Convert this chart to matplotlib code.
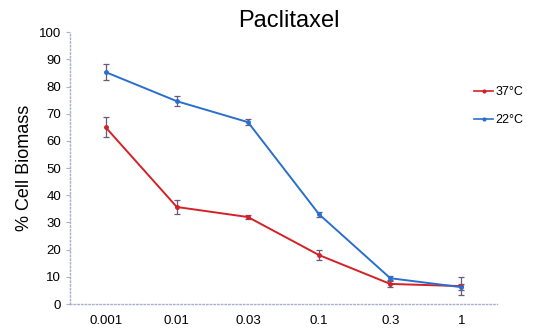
import numpy as np
import matplotlib.pyplot as plt
from matplotlib.lines import Line2D

plt.rcParams['font.family'] = ['Liberation Sans', 'DejaVu Sans']

# Data
doses = ['0.001', '0.01', '0.03', '0.1', '0.3', '1']
warm = [65, 35.7, 32, 18, 7.4, 6.6]          # 37°C
warm_err = [3.7, 2.5, 0.7, 1.8, 1.2, 3.3]
cold = [85.3, 74.6, 66.9, 33, 9.5, 6.2]      # 22°C
cold_err = [2.9, 1.8, 1.2, 1.0, 0.8, 1.0]

red = '#d42127'
blue = '#2a6fd0'

fig = plt.figure(figsize=(5.35, 3.28), dpi=100)
ax = fig.add_axes([0.131, 0.073, 0.798, 0.829])

x = np.arange(len(doses))
ax.errorbar(x, warm, yerr=warm_err, color=red, lw=1.4, marker='o', ms=2.5,
            ecolor='#6a5a7a', elinewidth=0.9, capsize=2, capthick=0.9)
ax.errorbar(x, cold, yerr=cold_err, color=blue, lw=1.4, marker='o', ms=2.5,
            ecolor='#6a5a7a', elinewidth=0.9, capsize=2, capthick=0.9)

ax.set_xlim(-0.5, 5.5)
ax.set_ylim(0, 100)
ax.set_yticks(range(0, 101, 10))
ax.set_xticks(x)
ax.set_xticklabels(doses)
ax.tick_params(labelsize=9.5, length=3, color='#aab0cc')
ax.tick_params(axis='x', length=0, pad=8)

for side in ['top', 'right']:
    ax.spines[side].set_visible(False)
for side in ['left', 'bottom']:
    ax.spines[side].set_color('#a8aed0')
    ax.spines[side].set_linestyle(':')
    ax.spines[side].set_linewidth(1.0)

ax.set_ylabel('% Cell Biomass', fontsize=13, labelpad=4)
fig.text(0.54, 0.935, 'Paclitaxel', fontsize=17, ha='center', va='center')

handles = [Line2D([], [], color=red, lw=1.2, marker='o', ms=2),
           Line2D([], [], color=blue, lw=1.2, marker='o', ms=2)]
ax.legend(handles, ['37°C', '22°C'], loc='upper left', bbox_to_anchor=(0.935, 0.82),
          frameon=False, fontsize=9, handlelength=1.5, handletextpad=0.2,
          borderaxespad=0, labelspacing=1.3)

fig.savefig('out.png', dpi=100)
